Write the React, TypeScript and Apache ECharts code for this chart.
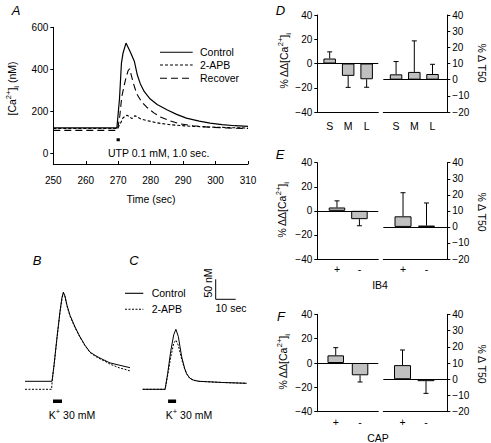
import React, { useEffect, useRef } from "react";
import * as echarts from "echarts";

const FONT = "'Liberation Sans', Arial, Helvetica, sans-serif";

// ---------- Panel A: [Ca2+]i (nM) vs time (sec)
const aControl: [number, number][] = [
  [250, 122], [269.6, 122], [270.4, 260], [271.0, 430], [271.5, 478], [272.4, 525], [273.7, 484],
  [275.0, 437], [275.9, 373], [276.8, 332], [278, 295], [279.8, 260], [282, 233], [285, 208],
  [288, 186], [291, 168], [295, 154], [298.3, 144], [302, 137], [306, 132], [310, 129],
];
const aApb: [number, number][] = [
  [250, 119], [269.8, 119], [270.6, 140], [271.5, 170], [272.7, 182], [273.5, 175], [274.2, 166],
  [275.2, 180], [276, 172], [277, 164], [278.8, 157], [281, 149], [283, 143], [286, 137],
  [289, 133], [293, 129], [298, 126], [304, 123], [310, 121],
];
const aRecover: [number, number][] = [
  [250, 110], [269.8, 110], [270.5, 180], [271.1, 270], [272.2, 348], [273.0, 392], [273.5, 403],
  [274.7, 333], [275.7, 284], [277.2, 246], [278.8, 220], [281, 193], [283, 173], [286, 155],
  [289, 141], [293, 132], [298, 125], [304, 121], [310, 119],
];
const aStim: [number, number][] = [[269.5, 65], [270.5, 65]];
const aYTicks = [0, 200, 400, 600];

// ---------- Panels B and C: K+ 30 mM responses (sec, nM)
const bControl: [number, number][] = [
  [0, 120], [13.5, 120], [14.5, 160], [16, 230], [17.5, 295], [18.5, 330], [19.2, 343], [20, 333],
  [21, 310], [22.5, 285], [25, 256], [27.5, 231], [30, 210], [32.5, 193], [35, 185], [37.5, 178],
  [40, 172], [42.5, 166], [45, 163], [47.5, 160], [50, 157], [52.5, 154],
];
const bApb: [number, number][] = [
  [0, 100], [13.3, 100], [13.6, 122], [14.5, 158], [16, 228], [17.5, 292], [18.5, 328], [19.2, 340],
  [20, 331], [21, 308], [22.5, 283], [25, 254], [27.5, 230], [30, 209], [32.5, 192], [35, 183],
  [37.5, 176], [40, 170], [42.5, 163], [45, 158], [47.5, 153], [50, 150], [52.5, 146],
];
const bStim: [number, number][] = [[14, 70], [18.5, 70]];
const cControl: [number, number][] = [
  [0, 100], [11.2, 100], [12.5, 140], [14, 195], [15.5, 236], [16.6, 250], [17.8, 232], [19.5, 181],
  [21, 152], [22, 139], [23.5, 128], [25.3, 123], [28, 120], [32, 119], [40, 117], [52, 115],
];
const cApb: [number, number][] = [
  [0, 100], [11.2, 100], [12.5, 135], [14, 180], [15.5, 215], [16.6, 223], [17.8, 210], [19.5, 175],
  [21, 150], [22, 138], [23.5, 128], [25.3, 123], [28, 120], [32, 119], [40, 117], [52, 115],
];
const cStim: [number, number][] = [[12.7, 70], [16.7, 70]];
const scaleBar: [number, number][] = [[36.5, 375], [36.5, 325], [46.5, 325]]; // 50 nM, 10 sec

// ---------- Panel D
const dCats = ["S", "M", "L"];
const dCaMean = [4.1, -10.2, -13];
const dCaErr = [5.5, 9.5, 6.6];
const dT50Mean = [3.3, 4.8, 3.5];
const dT50Err = [7.9, 19.2, 6];
// ---------- Panel E (IB4)
const eCats = ["+", "-"];
const eCaMean = [2.8, -6.9];
const eCaErr = [5.5, 5.5];
const eT50Mean = [6.6, 0.8];
const eT50Err = [14.7, 14.1];
// ---------- Panel F (CAP)
const fCats = ["+", "-"];
const fCaMean = [6.3, -10.1];
const fCaErr = [6.3, 5.5];
const fT50Mean = [8.7, -1.2];
const fT50Err = [9.3, 7.5];

const minus = (v: number) => (v < 0 ? "\u2212" + Math.abs(v) : String(v));

function buildOption() {
  const grids: any[] = [
    { left: 53.3, top: 27.3, width: 194.7, height: 136.7 }, // 0 A
    { left: 25, top: 277.3, width: 105, height: 136 }, // 1 B
    { left: 142.7, top: 277.3, width: 104, height: 136 }, // 2 C
    { left: 317.3, top: 15, width: 61, height: 97 }, // 3 D-L
    { left: 383.3, top: 15, width: 64, height: 97 }, // 4 D-R
    { left: 317.3, top: 162.7, width: 61, height: 96.3 }, // 5 E-L
    { left: 383.3, top: 162.7, width: 64, height: 96.3 }, // 6 E-R
    { left: 317.3, top: 314.3, width: 61, height: 97.4 }, // 7 F-L
    { left: 383.3, top: 314.3, width: 64, height: 97.4 }, // 8 F-R
  ].map((g) => ({ ...g, containLabel: false, outerBoundsMode: "none", show: false }));

  const axLine = { show: true, onZero: false, lineStyle: { color: "#000", width: 1 } };
  const lbl = { color: "#000", fontFamily: FONT, fontSize: 10 };

  const xAxes: any[] = [];
  const yAxes: any[] = [];
  const series: any[] = [];

  // A
  xAxes.push({
    gridIndex: 0, type: "value", min: 250, max: 310, interval: 10,
    axisLine: axLine, axisTick: { show: true, inside: true, length: 3, lineStyle: { color: "#000" } },
    axisLabel: { ...lbl, margin: 11 }, splitLine: { show: false },
  });
  yAxes.push({
    gridIndex: 0, type: "value", min: -50, max: 600,
    axisLine: axLine,
    axisTick: { show: true, length: 3, customValues: aYTicks, lineStyle: { color: "#000" } },
    axisLabel: { ...lbl, margin: 5, customValues: aYTicks }, splitLine: { show: false },
  });
  const lineS = (gi: number, data: any, type: any, width = 1.1) => ({
    type: "line", xAxisIndex: gi, yAxisIndex: gi, data, showSymbol: false, symbol: "none",
    lineStyle: { color: "#000", width, type }, silent: true,
  });
  series.push(lineS(0, aControl, "solid", 1.2));
  series.push(lineS(0, aApb, [3, 2], 1.1));
  series.push(lineS(0, aRecover, [7, 4], 1.1));
  series.push(lineS(0, aStim, "solid", 3));

  // B, C
  [1, 2].forEach((gi) => {
    xAxes.push({ gridIndex: gi, type: "value", min: 0, max: gi === 1 ? 52.5 : 52, show: false });
    yAxes.push({ gridIndex: gi, type: "value", min: 40, max: 380, show: false });
  });
  series.push(lineS(1, bControl, "solid", 1));
  series.push(lineS(1, bApb, [2, 1.5], 1));
  series.push(lineS(1, bStim, "solid", 3.5));
  series.push(lineS(2, cControl, "solid", 1));
  series.push(lineS(2, cApb, [2, 1.5], 1));
  series.push(lineS(2, cStim, "solid", 3.5));
  series.push(lineS(2, scaleBar, "solid", 1));

  const barPanel = (
    gi: number, cats: string[], mean: number[], err: number[], barW: number,
    xmin: number, xmax: number, side: "left" | "right", ymin: number, ymax: number,
    yint: number, xMargin: number,
  ) => {
    xAxes.push({
      gridIndex: gi, type: "value", min: xmin, max: xmax,
      axisLine: axLine, axisTick: { show: false }, splitLine: { show: false },
      axisLabel: {
        ...lbl, fontSize: 10.5, margin: xMargin,
        customValues: cats.map((_, i) => i),
        formatter: (v: number) => cats[Math.round(v)] ?? "",
      },
    });
    yAxes.push({
      gridIndex: gi, type: "value", min: ymin, max: ymax, interval: yint, position: side,
      axisLine: axLine, axisTick: { show: true, length: 3, lineStyle: { color: "#000" } },
      axisLabel: { ...lbl, margin: 5, formatter: minus }, splitLine: { show: false },
    });
    series.push({
      type: "bar", xAxisIndex: gi, yAxisIndex: gi, barWidth: barW, silent: true,
      data: mean.map((m, i) => [i, m]),
      itemStyle: { color: "#c0c0c0", borderColor: "#000", borderWidth: 1 },
      markLine: {
        silent: true, symbol: "none", label: { show: false },
        lineStyle: { color: "#000", type: "solid", width: 1.2 },
        data: [{ yAxis: 0 }],
      },
    });
    series.push({
      type: "custom", xAxisIndex: gi, yAxisIndex: gi, silent: true,
      dimensions: ["x", "y", "e"], encode: { x: 0, y: 1 },
      data: mean.map((m, i) => [i, m, err[i]]),
      renderItem: (_p: any, api: any) => {
        const x = api.value(0), v = api.value(1), e = api.value(2);
        const end = v >= 0 ? v + e : v - e;
        const p0 = api.coord([x, v]);
        const p1 = api.coord([x, end]);
        const st = { stroke: "#000", lineWidth: 1 };
        return {
          type: "group",
          children: [
            { type: "line", shape: { x1: p0[0], y1: p0[1], x2: p1[0], y2: p1[1] }, style: st },
            { type: "line", shape: { x1: p1[0] - 2.5, y1: p1[1], x2: p1[0] + 2.5, y2: p1[1] }, style: st },
          ],
        };
      },
    });
  };

  barPanel(3, dCats, dCaMean, dCaErr, 12.5, -0.67, 2.63, "left", -40, 40, 20, 8);
  barPanel(4, dCats, dT50Mean, dT50Err, 12.5, -0.7, 2.81, "right", -20, 40, 10, 8);
  barPanel(5, eCats, eCaMean, eCaErr, 16.5, -0.876, 1.84, "left", -40, 40, 20, 4);
  barPanel(6, eCats, eT50Mean, eT50Err, 17, -0.84, 1.885, "right", -20, 40, 10, 4);
  barPanel(7, fCats, fCaMean, fCaErr, 16.5, -0.757, 1.75, "left", -40, 40, 20, 5);
  barPanel(8, fCats, fT50Mean, fT50Err, 17, -0.817, 1.906, "right", -20, 40, 10, 5);

  const txt = (x: number, y: number, text: string, extra: any = {}, rot = 0) => ({
    type: "text", x, y, rotation: rot, silent: true,
    style: {
      text, fill: "#000", fontFamily: FONT, fontSize: 10.5,
      align: "center", verticalAlign: "middle", ...extra,
    },
  });
  const letter = (x: number, y: number, t: string) =>
    txt(x, y, t, { fontSize: 13, fontStyle: "italic" });
  const hline = (x1: number, x2: number, y: number, dash?: number[]) => ({
    type: "line", silent: true,
    shape: { x1, y1: y, x2, y2: y },
    style: { stroke: "#000", lineWidth: 1.1, lineDash: dash },
  });
  const caRich = {
    a: { fontFamily: FONT, fontSize: 10.5, lineHeight: 16, verticalAlign: "middle" },
    s: { fontFamily: FONT, fontSize: 7.5, lineHeight: 16, verticalAlign: "top" },
    b: { fontFamily: FONT, fontSize: 7.5, lineHeight: 16, verticalAlign: "bottom" },
  };
  const caName = "{a|% ΔΔ[Ca}{s|2+}{a|]}{b|i}";
  const R = Math.PI / 2;

  const graphic: any[] = [
    letter(16, 10, "A"), letter(37, 260.5, "B"), letter(134, 260.5, "C"),
    letter(280.5, 10, "D"), letter(280, 154, "E"), letter(281, 316.7, "F"),
    txt(12, 88.5, "{a|[Ca}{s|2+}{a|]}{b|i}{a| (nM)}", { rich: caRich }, R),
    txt(151, 199, "Time (sec)"),
    hline(160, 192.7, 52.3), txt(200, 52.3, "Control", { align: "left" }),
    hline(160, 192.7, 65, [3, 2]), txt(200, 65, "2-APB", { align: "left" }),
    hline(160, 192.7, 78.3, [7, 4]), txt(200, 78.3, "Recover", { align: "left" }),
    txt(108, 153.3, "UTP 0.1 mM, 1.0 sec.", { align: "left" }),
    hline(125, 143.3, 293.3), txt(151.7, 293.3, "Control", { align: "left" }),
    hline(125, 143.3, 309.3, [2, 1.5]), txt(151.7, 309.3, "2-APB", { align: "left" }),
    txt(208, 283, "50 nM", {}, R),
    txt(231, 308, "10 sec"),
    txt(72, 415, "{a|K}{s|+}{a| 30 mM}", { rich: caRich }),
    txt(189, 415, "{a|K}{s|+}{a| 30 mM}", { rich: caRich }),
    txt(284, 61, caName, { rich: caRich }, R),
    txt(282, 210, caName, { rich: caRich }, R),
    txt(283, 362, caName, { rich: caRich }, R),
    txt(482, 63, "% Δ T50", {}, -R),
    txt(482, 212, "% Δ T50", {}, -R),
    txt(482, 364, "% Δ T50", {}, -R),
    txt(380, 285, "IB4"),
    txt(378, 437.5, "CAP"),
  ];

  return {
    animation: false,
    backgroundColor: "#fff",
    textStyle: { fontFamily: FONT },
    grid: grids,
    xAxis: xAxes,
    yAxis: yAxes,
    series,
    graphic,
  };
}

export default function App() {
  const ref = useRef<HTMLDivElement>(null);
  useEffect(() => {
    if (!ref.current) return;
    const chart = echarts.init(ref.current, undefined, { renderer: "svg" });
    chart.setOption(buildOption() as any);
    return () => chart.dispose();
  }, []);
  return <div ref={ref} style={{ width: 491, height: 443, position: "absolute", left: 0, top: 0 }} />;
}
